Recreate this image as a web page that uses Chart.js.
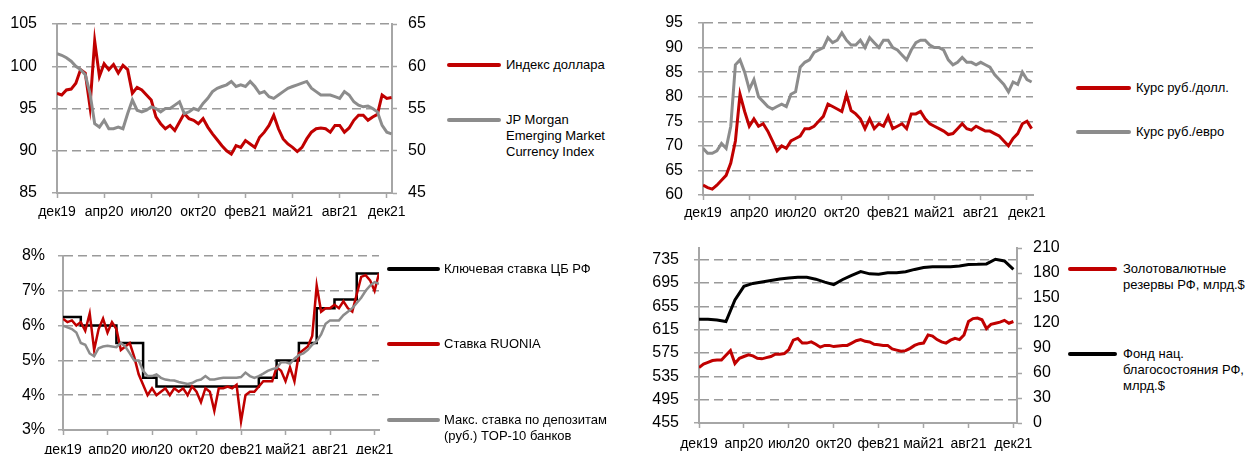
<!DOCTYPE html>
<html>
<head>
<meta charset="utf-8">
<script src="https://cdn.jsdelivr.net/npm/chart.js@4.4.1/dist/chart.umd.min.js"></script>
<style>
  body { margin: 0; background: #fff; width: 1249px; height: 454px; overflow: hidden; position: relative;
         font-family: "Liberation Sans", Arial, sans-serif; }
  canvas { position: absolute; }
  .leg { position: absolute; font-size: 13px; line-height: 16px; color: #000; z-index: 2; }
  .leg i { position: absolute; left: 0; top: 6px; height: 4px; border-radius: 2px; }
  .leg span { position: absolute; top: 0; white-space: nowrap; }
</style>
</head>
<body>
<canvas id="c1"></canvas>
<canvas id="c2"></canvas>
<canvas id="c3"></canvas>
<canvas id="c4"></canvas>

<div class="leg" style="left:447px;top:57px"><i style="width:54px;background:#c00000"></i><span style="left:59px">Индекс доллара</span></div>
<div class="leg" style="left:447px;top:112px"><i style="width:54px;background:#8c8c8c"></i><span style="left:59px">JP Morgan<br>Emerging Market<br>Currency Index</span></div>

<div class="leg" style="left:1076px;top:80px"><i style="width:55px;background:#c00000"></i><span style="left:60px">Курс руб./долл.</span></div>
<div class="leg" style="left:1076px;top:124px"><i style="width:55px;background:#8c8c8c"></i><span style="left:60px">Курс руб./евро</span></div>

<div class="leg" style="left:387px;top:261px"><i style="width:53px;background:#000"></i><span style="left:57px">Ключевая ставка ЦБ РФ</span></div>
<div class="leg" style="left:387px;top:336px"><i style="width:53px;background:#c00000"></i><span style="left:57px">Ставка RUONIA</span></div>
<div class="leg" style="left:387px;top:412px"><i style="width:53px;background:#8c8c8c"></i><span style="left:57px">Макс. ставка по депозитам<br>(руб.) TOP-10 банков</span></div>

<div class="leg" style="left:1068px;top:261px"><i style="width:49px;background:#c00000"></i><span style="left:55px">Золотовалютные<br>резервы РФ, млрд.$</span></div>
<div class="leg" style="left:1068px;top:346px"><i style="width:49px;background:#000"></i><span style="left:55px">Фонд нац.<br>благосостояния РФ,<br>млрд.$</span></div>

<script>
// x-axis labels shared by all four panels
const months = ['дек19', 'апр20', 'июл20', 'окт20', 'фев21', 'май21', 'авг21', 'дек21'];

// panel 1: dollar index (left) and JPM EM currency index (right), step 0.1 tick
const dollarIndex = [96.8, 96.6, 97.2, 97.3, 98.0, 99.6, 99.2, 95.2, 103.0, 98.8,
  100.3, 99.6, 100.2, 99.2, 100.1, 99.6, 96.8, 97.5, 97.2, 96.6,
  96.0, 94.0, 93.2, 92.6, 93.0, 92.4, 93.4, 94.4, 93.8, 93.6,
  93.2, 93.8, 92.8, 92.0, 91.3, 90.6, 90.0, 89.6, 90.6, 90.4,
  91.2, 90.8, 90.4, 91.6, 92.2, 93.0, 94.2, 92.6, 91.4, 90.8,
  90.4, 89.9, 90.4, 91.4, 92.2, 92.6, 92.7, 92.6, 92.2, 93.0,
  93.0, 92.2, 92.7, 93.6, 94.2, 94.2, 93.6, 94.0, 94.3, 96.6,
  96.2, 96.3];
const emci = [61.5, 61.3, 61.0, 60.6, 60.0, 59.6, 59.0, 56.8, 53.2, 52.8,
  53.6, 52.6, 52.6, 52.8, 52.6, 54.4, 56.0, 54.8, 54.6, 54.8,
  55.2, 55.0, 54.6, 55.0, 55.0, 55.4, 55.8, 54.4, 54.6, 55.0,
  54.8, 55.6, 56.2, 57.0, 57.4, 57.6, 57.8, 58.2, 57.6, 57.8,
  57.6, 58.2, 57.6, 56.8, 57.0, 56.4, 56.2, 56.6, 57.0, 57.4,
  57.6, 57.8, 58.0, 58.2, 57.4, 57.0, 56.6, 56.6, 56.6, 56.4,
  56.2, 57.0, 56.6, 55.8, 55.4, 55.2, 55.3, 55.0, 54.6, 53.0,
  52.2, 52.0];
const ticks1 = [85, 90, 95, 100, 105];
const ticks1r = [45, 50, 55, 60, 65];

// panel 2: RUB/USD and RUB/EUR
const rubUsd = [62.0, 61.5, 61.2, 62.0, 63.0, 64.0, 66.5, 71.0, 80.5, 77.0,
  74.0, 75.5, 74.0, 74.5, 73.0, 71.0, 69.0, 70.0, 69.5, 71.0,
  71.5, 72.0, 73.5, 73.5, 74.0, 75.0, 76.0, 78.5, 78.0, 77.5,
  77.0, 80.4, 77.2, 76.5, 75.5, 73.5, 75.5, 73.5, 74.5, 74.0,
  76.0, 73.5, 74.0, 74.5, 73.5, 76.5, 76.5, 77.0, 75.5, 74.5,
  74.0, 73.5, 73.0, 72.3, 72.5, 73.5, 74.5, 73.5, 73.2, 74.0,
  73.5, 73.0, 73.0, 72.5, 72.0, 71.0, 70.0, 71.5, 72.5, 74.5,
  75.0, 73.5];
const rubEur = [69.5, 68.5, 68.5, 69.0, 70.5, 69.5, 74.0, 86.5, 87.5, 85.0,
  81.5, 83.5, 80.0, 79.0, 78.0, 77.5, 78.0, 78.5, 78.0, 80.5,
  81.0, 86.0, 87.0, 87.5, 89.0, 89.5, 90.0, 92.0, 91.0, 91.5,
  93.0, 91.5, 90.5, 90.5, 91.5, 90.0, 92.0, 91.0, 90.0, 91.5,
  91.5, 90.0, 89.5, 88.5, 87.5, 89.5, 91.0, 91.5, 91.5, 90.5,
  90.0, 90.0, 89.5, 87.5, 86.5, 87.0, 88.0, 87.0, 87.0, 86.5,
  87.0, 86.5, 86.0, 84.5, 83.5, 82.5, 81.0, 83.0, 82.5, 85.0,
  83.5, 83.0];
const ticks2 = [60, 65, 70, 75, 80, 85, 90, 95];

// panel 3: key rate, RUONIA, max deposit rate (%)
const keyRate = [6.25, 6.25, 6.25, 6.25, 6.0, 6.0, 6.0, 6.0, 6.0, 6.0,
  6.0, 6.0, 5.5, 5.5, 5.5, 5.5, 5.5, 5.5, 4.5, 4.5,
  4.5, 4.25, 4.25, 4.25, 4.25, 4.25, 4.25, 4.25, 4.25, 4.25,
  4.25, 4.25, 4.25, 4.25, 4.25, 4.25, 4.25, 4.25, 4.25, 4.25,
  4.25, 4.25, 4.25, 4.25, 4.5, 4.5, 4.5, 4.5, 5.0, 5.0,
  5.0, 5.0, 5.0, 5.5, 5.5, 5.5, 5.5, 6.5, 6.5, 6.5,
  6.5, 6.75, 6.75, 6.75, 6.75, 6.75, 7.5, 7.5, 7.5, 7.5,
  7.5, 7.5];
const ruonia = [6.2, 6.1, 6.15, 6.0, 6.1, 5.85, 6.35, 5.3, 5.9, 6.2,
  5.8, 6.1, 5.9, 5.3, 5.4, 5.5, 5.1, 4.6, 4.3, 4.0,
  4.2, 4.0, 4.1, 4.2, 4.0, 4.2, 4.1, 4.2, 4.0, 4.25,
  4.1, 3.8, 4.2, 4.1, 3.55, 4.2, 4.2, 4.25, 4.2, 4.3,
  3.25, 4.0, 4.1, 4.1, 4.25, 4.4, 4.4, 4.4, 4.8, 4.7,
  4.4, 4.8, 4.4, 5.2, 5.3, 5.4, 5.7, 7.15, 6.4, 6.5,
  6.5, 6.6, 6.5, 6.7, 6.5, 6.4, 6.9, 7.4, 7.45, 7.3,
  7.0, 7.5];
const depositRate = [6.0, 5.95, 5.9, 5.8, 5.5, 5.45, 5.2, 5.12, 5.35, 5.4,
  5.42, 5.4, 5.38, 5.5, 5.4, 5.2, 5.0, 5.0, 4.7, 4.55,
  4.55, 4.6, 4.5, 4.45, 4.43, 4.42, 4.38, 4.35, 4.32, 4.35,
  4.42, 4.45, 4.55, 4.45, 4.45, 4.48, 4.5, 4.5, 4.5, 4.5,
  4.52, 4.65, 4.55, 4.5, 4.55, 4.62, 4.7, 4.75, 4.78, 4.95,
  4.95, 4.9, 5.05, 5.15, 5.2, 5.3, 5.45, 5.55, 5.75, 6.05,
  6.15, 6.15, 6.15, 6.3, 6.4, 6.5, 6.65, 6.8, 7.0, 7.15,
  7.25, 7.2];
const ticks3 = [3, 4, 5, 6, 7, 8];

// panel 4: FX reserves (left, step 0.1) and NWF (right, step 0.2)
const reserves = [550, 556, 559, 562, 563, 563, 571, 579, 557, 566,
  569, 572, 570, 566, 565, 567, 569, 573, 573, 574,
  581, 597, 600, 592, 592, 594, 590, 585, 588, 588,
  586, 587, 588, 588, 592, 596, 598, 595, 594, 590,
  589, 588, 588, 582, 580, 578, 579, 583, 588, 591,
  592, 606, 604, 598, 594, 592, 597, 600, 598, 606,
  629, 634, 635, 632, 617, 624, 626, 628, 631, 626,
  629];
const nwf = [124.4, 124.4, 123.5, 121.8, 147.6, 164.0, 167.5, 169.3, 171.1, 172.7,
  174.1, 174.8, 174.8, 172.6, 169.1, 166.1, 172.2, 177.2, 181.7, 179.0,
  178.4, 180.2, 180.4, 181.5, 184.3, 186.5, 187.6, 187.6, 187.6, 188.5,
  190.2, 190.4, 190.9, 196.5, 194.5, 184.4];
const ticks4 = [455, 495, 535, 575, 615, 655, 695, 735];
const ticks4r = [0, 30, 60, 90, 120, 150, 180, 210];

const RED = '#c00000';
const GRAY = '#8c8c8c';
const BLACK = '#000000';
const GRID = '#9a9a9a';
const AXIS = '#a6a6a6';

Chart.defaults.font.family = '"Liberation Sans", Arial, sans-serif';
Chart.defaults.color = '#000';

function pts(values, step) {
  return values.map((v, i) => ({ x: i * step, y: v }));
}

function line(values, step, color, order, extra) {
  return Object.assign({
    data: pts(values, step),
    borderColor: color,
    backgroundColor: color,
    borderWidth: 3,
    pointRadius: 0,
    tension: 0,
    fill: false,
    order
  }, extra || {});
}

function yScale(ticks, min, max, width, pad, fmt, right) {
  return {
    type: 'linear',
    position: right ? 'right' : 'left',
    min,
    max,
    afterBuildTicks: (s) => { s.ticks = ticks.map((v) => ({ value: v })); },
    afterFit: (s) => {
      s.width = width;
      // keep label overflow from pushing the plot area around
      s.paddingTop = 0;
      s.paddingBottom = 0;
    },
    ticks: { padding: pad, font: { size: 16 }, color: '#000', callback: fmt || ((v) => v) },
    grid: right
      ? { drawOnChartArea: false, tickLength: 5, tickColor: AXIS, tickWidth: 1.5 }
      : { color: GRID, lineWidth: 1.5, tickLength: 5, tickColor: AXIS, tickWidth: 1.5, tickBorderDash: [] },
    border: { color: AXIS, width: 2, dash: right ? [] : [9, 5] }
  };
}

function makeChart(id, box, datasets, y, y1) {
  const cv = document.getElementById(id);
  cv.width = box.w;
  cv.height = box.h;
  cv.style.left = box.left + 'px';
  cv.style.top = box.top + 'px';
  const scales = {
    x: {
      type: 'linear',
      min: 0,
      max: box.xMax,
      afterBuildTicks: (s) => { s.ticks = months.map((_, i) => ({ value: i })); },
      afterFit: (s) => {
        s.height = box.h - box.bottom;
        s.paddingLeft = 0;
        s.paddingRight = 0;
      },
      ticks: {
        autoSkip: false, maxRotation: 0, minRotation: 0, padding: box.xPad,
        font: { size: 14 }, color: '#000',
        callback: (v, i) => months[i]
      },
      grid: { drawOnChartArea: false, tickLength: 5, tickColor: AXIS, tickWidth: 1.5 },
      border: { color: AXIS, width: 2 }
    },
    y
  };
  if (y1) scales.y1 = y1;
  return new Chart(cv, {
    type: 'line',
    data: { datasets },
    options: {
      responsive: false,
      animation: false,
      events: [],
      layout: { padding: { top: box.top0, right: y1 ? 0 : box.w - box.right, left: 0, bottom: 0 } },
      plugins: { legend: { display: false }, tooltip: { enabled: false } },
      scales
    }
  });
}

// panel 1
makeChart('c1', { left: 0, top: 0, w: 440, h: 225, top0: 24, right: 392, bottom: 193, xMax: 7.11, xPad: 6 },
  [
    line(emci, 0.1, GRAY, 0, { yAxisID: 'y1' }),
    line(dollarIndex, 0.1, RED, 1, { yAxisID: 'y' })
  ],
  yScale(ticks1, 85, 105, 57, 15),
  yScale(ticks1r, 45, 65, 48, 11, null, true)
);

// panel 2
makeChart('c2', { left: 640, top: 0, w: 420, h: 225, top0: 23, right: 393, bottom: 195, xMax: 7.13, xPad: 5 },
  [
    line(rubEur, 0.1, GRAY, 0),
    line(rubUsd, 0.1, RED, 1)
  ],
  yScale(ticks2, 60, 95, 63, 15)
);

// panel 3
makeChart('c3', { left: 0, top: 230, w: 400, h: 224, top0: 26, right: 379, bottom: 200, xMax: 7.1, xPad: 7 },
  [
    line(depositRate, 0.1, GRAY, 0, { borderWidth: 2.5 }),
    line(ruonia, 0.1, RED, 1, { borderWidth: 2.5 }),
    line(keyRate, 0.1, BLACK, 2, { borderWidth: 2.5, stepped: true })
  ],
  yScale(ticks3, 3, 8, 63, 13, (v) => v + '%')
);

// panel 4
makeChart('c4', { left: 640, top: 230, w: 426, h: 224, top0: 18, right: 377, bottom: 193, xMax: 7.08, xPad: 8 },
  [
    line(nwf, 0.2, BLACK, 0, { yAxisID: 'y1' }),
    line(reserves, 0.1, RED, 1, { yAxisID: 'y' })
  ],
  yScale(ticks4, 455, 755, 59, 15),
  yScale(ticks4r, 0, 210, 49, 11, null, true)
);
</script>
</body>
</html>
